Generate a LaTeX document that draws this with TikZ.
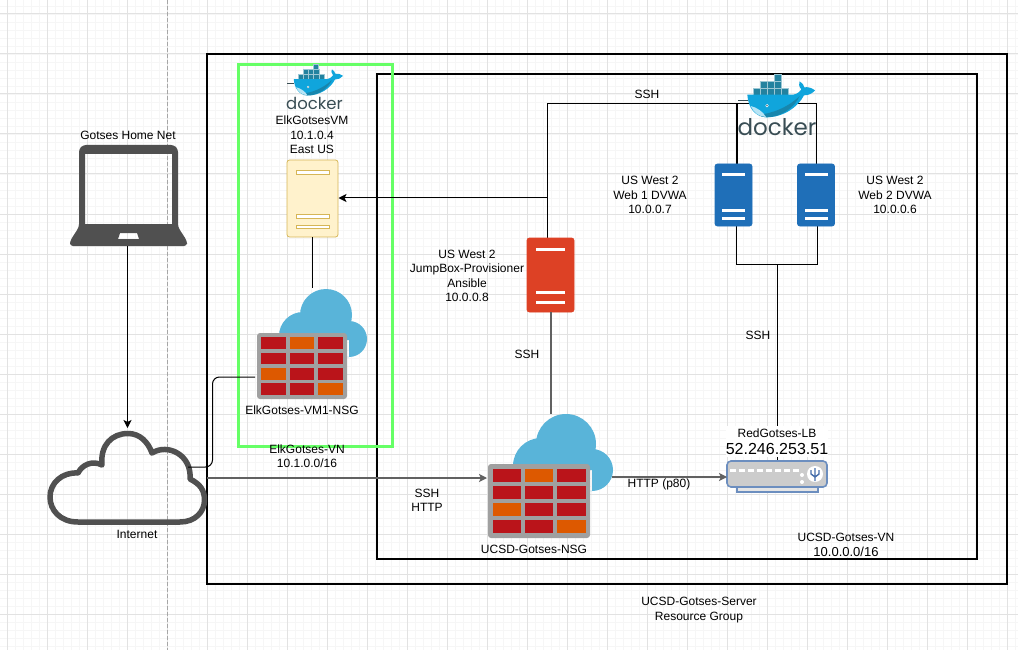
\documentclass[tikz,border=0pt]{standalone}
\usepackage{fontspec}
\setmainfont{Liberation Sans}
\newfontfamily\dockerfont{Poppins}
\usetikzlibrary{arrows.meta,calc}
\definecolor{gridmaj}{HTML}{E2E2E2}
\definecolor{gridmin}{HTML}{F6F6F6}
\definecolor{cloudblue}{HTML}{59B4D9}
\definecolor{brickred}{HTML}{BA141A}
\definecolor{brickor}{HTML}{DD5900}
\definecolor{fwgray}{HTML}{A0A0A0}
\definecolor{darkicon}{HTML}{505050}
\definecolor{srvblue}{HTML}{1F6FB8}
\definecolor{srvred}{HTML}{DD4125}
\definecolor{dkteal}{HTML}{23829F}
\definecolor{dkblue}{HTML}{10A5DC}
\definecolor{dktext}{HTML}{394D54}
\definecolor{lbstroke}{HTML}{6C8EBF}
\definecolor{usbblue}{HTML}{466EAA}
\definecolor{elkgreen}{HTML}{66FF66}
\definecolor{vmfill}{HTML}{FFF2CC}
\definecolor{vmstroke}{HTML}{D6B656}
\tikzset{
  lbl/.style={font=\fontsize{12}{14.3}\selectfont,align=center,inner sep=0pt,text=black},
  conn/.style={line width=1pt,black},
  grayconn/.style={line width=1.4pt,black!62},
  tip/.style={-{Stealth[length=8pt,width=8pt,inset=2pt]}},
  frame/.style={draw=black,line width=2.8pt,fill=none},
  srv/.style={rectangle,rounded corners=2.5pt,inner sep=0pt,outer sep=0pt,minimum width=#1},
  iconbox/.style={rectangle,inner sep=0pt,outer sep=0pt},
}
% name, centre x, centre y, width, height, fill, stroke
\newcommand{\serverbox}[7]{%
  \node[srv=#4 pt,minimum height=#5 pt,fill=#6,draw=#7,line width=.8pt] (#1) at (#2,#3) {};
  \foreach \sy in {.13,.71,.84}{
    \fill[white,draw=#7,line width=.35pt] ($(#1.north west)!.18!(#1.north east)+(0,\sy*#5)$) rectangle ($(#1.north west)!.82!(#1.north east)+(0,\sy*#5+3.8)$);
  }
}
% name, left, top, width, height
\newcommand{\firewall}[5]{%
  \node[iconbox,rounded corners=3pt,fill=fwgray,minimum width=#4 pt,minimum height=#5 pt,anchor=north west] (#1) at (#2,#3) {};
  \foreach \r in {0,1,2,3}{\foreach \c in {0,1,2}{
    \pgfmathsetmacro{\bx}{#2+#4*(.045+\c*.318)}
    \pgfmathsetmacro{\by}{#3+#5*(.065+\r*.232)}
    \pgfmathtruncatemacro{\kk}{\r*10+\c}
    \ifnum\kk=1 \def\bc{brickor}\else\ifnum\kk=20 \def\bc{brickor}\else\ifnum\kk=32 \def\bc{brickor}\else\def\bc{brickred}\fi\fi\fi
    \fill[\bc] (\bx,\by) rectangle ++(#4*.275,#5*.178);
  }}
}
% x, y, scale
\newcommand{\dockerlogo}[3]{%
  \begin{scope}[shift={(#1,#2)},scale=#3]
    \draw[dktext,line width=.5pt] (0,79) -- (30,79);
    \foreach \bxx/\byy in {47/43,68/43,89/43,110/43,131/43,68/22,89/22,110/22,109/2}{
      \fill[dkteal,draw=white!55!dkteal,line width=.4pt] (\bxx,\byy) rectangle ++(21,20);
    }
    \fill[dkblue] (28,62) -- (155,62) .. controls (170,64) and (182,58) .. (190,46)
      .. controls (182,38) and (182,28) .. (185,22) .. controls (193,27) and (198,33) .. (199,40)
      .. controls (210,38) and (222,42) .. (231,49) .. controls (222,60) and (210,64) .. (198,64)
      .. controls (180,100) and (135,130) .. (85,130) .. controls (50,128) and (30,100) .. (28,62) -- cycle;
    \fill[dkteal!85!black,opacity=.55] (60,122) .. controls (100,120) and (150,100) .. (185,66)
      .. controls (170,100) and (130,130) .. (85,130) .. controls (75,130) and (66,127) .. (60,122) -- cycle;
    \fill[white!70!dkblue] (38,96) .. controls (55,100) and (75,112) .. (84,129) .. controls (62,128) and (46,115) .. (38,96) -- cycle;
    \fill[white] (87,95) circle (5);
    \fill[dktext] (87,95) circle (2.5);
  \end{scope}
}
\begin{document}
\begin{tikzpicture}[x=1pt,y=-1pt]
\useasboundingbox (0,0) rectangle (1018,650);
\fill[white] (0,0) rectangle (1018,650);
% grid
\foreach \gx in {-1,7,...,1018}{\draw[gridmin,line width=.8pt] (\gx,0) -- (\gx,650);}
\foreach \gy in {6,14,...,650}{\draw[gridmin,line width=.8pt] (0,\gy) -- (1018,\gy);}
\foreach \gx in {7,47,...,1018}{\draw[gridmaj,line width=1pt] (\gx,0) -- (\gx,650);}
\foreach \gy in {14,54,...,650}{\draw[gridmaj,line width=1pt] (0,\gy) -- (1018,\gy);}
\draw[black!35,line width=.8pt,dash pattern=on 4pt off 2pt] (167,0) -- (167,650);
% frames
\node[iconbox,frame,minimum width=800pt,minimum height=530pt,anchor=north west] (rg) at (207,54) {};
\node[iconbox,frame,minimum width=600pt,minimum height=485pt,anchor=north west] (vn) at (377,74) {};
\node[iconbox,draw=elkgreen,line width=3pt,minimum width=154pt,minimum height=381pt,anchor=north west] (elkvn) at (238,65) {};
% icons: clouds and firewalls
\fill[cloudblue] (326,315) circle (26) (303,336) circle (24) (349,339) circle (18) (303,340) rectangle (349,357);
\firewall{elkfw}{257}{333}{90}{66}
\fill[cloudblue] (566,444) circle (30) (541,466) circle (28) (592,470) circle (21) (541,470) rectangle (592,491);
\firewall{ucsdfw}{488}{464}{102}{74}
% connectors
\coordinate (sshbend) at (547,104);
\coordinate (elkentry) at (547,198);
\coordinate (web1top) at (737,104);
\coordinate (web2top) at (816,104);
\coordinate (lbjoin) at (777.5,264);
\coordinate (nsgout) at (612,477);
\coordinate (inetout) at (207,478);
\coordinate (elkroute) at (212.5,377);
\coordinate (inetbend) at (212.5,467);
\coordinate (inetright) at (188,467);
\draw[conn] (547,240) -- (sshbend) -- (web2top) -- (816,164);
\draw[conn,line width=1.6pt] (web1top) -- (737,164);
\draw[conn] (736.5,226) -- (736.5,264) -- (817.5,264) -- (817.5,226);
\draw[conn] (lbjoin) -- (777.5,461);
% servers
\serverbox{elkvm}{312.5}{198.5}{51}{77}{vmfill}{vmstroke}
\serverbox{jump}{550.5}{275}{47}{74}{srvred}{srvred}
\serverbox{web1}{733.5}{195}{37}{62}{srvblue}{srvblue}
\serverbox{web2}{816}{195}{37}{62}{srvblue}{srvblue}
% load balancer label sits on the connector
\node[lbl,fill=white,minimum width=102pt,minimum height=31pt] (lblname) at (777,441.5)
  {RedGotses-LB\\[2.5pt]{\fontsize{16}{18}\selectfont 52.246.253.51}};
% load balancer
\fill[black!10,draw=lbstroke,line width=1.2pt] (737,486) rectangle (818,492);
\node[iconbox,rounded corners=4pt,fill=black!20,draw=lbstroke,line width=1.6pt,minimum width=100pt,minimum height=26pt,anchor=north west] (lb) at (727,461) {};
\foreach \px in {730,739,748,757,766,775,784,793}{\fill[white] (\px,469) rectangle ++(6,3);}
\fill[white] (802,475) circle (2) (802,482) circle (2) (815,474) circle (8);
\draw[usbblue,line width=1.4pt] (815,468) -- (815,481) (811,470) -- (811,474) -- (815,477) -- (819,474) -- (819,470);
% laptop
\node[iconbox,minimum width=117pt,minimum height=101pt,anchor=north west] (laptop) at (70,145) {};
\fill[darkicon,even odd rule,rounded corners=3pt] (83,145) -- (174,145) -- (178,149) -- (178,227) -- (187,241) -- (187,246) -- (70,246) -- (70,241) -- (79,227) -- (79,149) -- cycle
  [sharp corners] (85,154) rectangle (172,224)
  (120,233) -- (137,233) -- (139,239) -- (118,239) -- cycle;
% internet cloud
\node[iconbox,minimum width=160pt,minimum height=94pt,anchor=north west] (internet) at (47,431) {};
\coordinate (nettop) at (127.5,428);
\draw[darkicon,line width=5.5pt,line join=round]
  (180,522) -- (78,522) .. controls (60,522) and (50,510) .. (50,497)
  .. controls (50,483) and (62,472) .. (78,473)
  .. controls (82,465) and (92,460) .. (102,465)
  .. controls (100,445) and (112,433.5) .. (128,433.5)
  .. controls (140,433.5) and (148,442) .. (152,453)
  .. controls (168,443) and (192,455) .. (190,479)
  .. controls (200,484) and (204.5,490) .. (204.5,500)
  .. controls (204.5,512) and (195,522) .. (180,522) -- cycle;
% connectors over icons
\draw[conn,tip] (127.5,246) -- (nettop);
\draw[conn,rounded corners=7pt] (inetright) -- (inetbend) -- (elkroute) -- (255,377);
\draw[grayconn,tip] (inetout) -- (487,478);
\draw[grayconn,tip] (nsgout) -- (727,477);
\draw[grayconn] (551,414) -- (551,312);
\draw[conn,tip] (elkentry) -- (338.5,198);
\draw[conn] (elkvm.south) -- (312.5,288);
% docker logos
\dockerlogo{738}{74}{.3333}
\node[inner sep=0pt,font=\dockerfont\fontsize{23}{23}\selectfont,text=dktext] (dockerb) at (777,127) {docker};
\dockerlogo{287}{64}{.2424}
\node[inner sep=0pt,font=\dockerfont\fontsize{16.5}{16.5}\selectfont,text=dktext] (dockera) at (314.5,103) {docker};
% labels
\node[lbl] (homelbl) at (128,135) {Gotses Home Net};
\node[lbl] (netlbl) at (137,534.5) {Internet};
\node[lbl] (elkvmlbl) at (312,135) {ElkGotsesVM\\10.1.0.4\\East US};
\node[lbl] (elkfwlbl) at (302,410) {ElkGotses-VM1-NSG};
\node[lbl] (elkvnlbl) at (307,456) {ElkGotses-VN\\10.1.0.0/16};
\node[lbl] (ssh1) at (427,500.5) {SSH\\HTTP};
\node[lbl] (ucsdfwlbl) at (534,549.5) {UCSD-Gotses-NSG};
\node[lbl] (httplbl) at (659,484.5) {HTTP (p80)};
\node[lbl] (vnname) at (846,537) {UCSD-Gotses-VN};
\node[lbl,font=\fontsize{13}{15}\selectfont,fill=white,inner xsep=1.5pt] (vnip) at (846,552) {10.0.0.0/16};
\node[lbl] (rglbl) at (699,610) {UCSD-Gotses-Server\\[.7pt]Resource Group};
\node[lbl] (ssh2) at (647,94.5) {SSH};
\node[lbl] (ssh3) at (527,354.5) {SSH};
\node[lbl] (ssh4) at (758,335) {SSH};
\node[lbl] (jumplbl) at (467,276) {US West 2\\JumpBox-Provisioner\\Ansible\\10.0.0.8};
\node[lbl] (web1lbl) at (650,195) {US West 2\\Web 1 DVWA\\10.0.0.7};
\node[lbl] (web2lbl) at (895,195) {US West 2\\Web 2 DVWA\\10.0.0.6};
\end{tikzpicture}
\end{document}
